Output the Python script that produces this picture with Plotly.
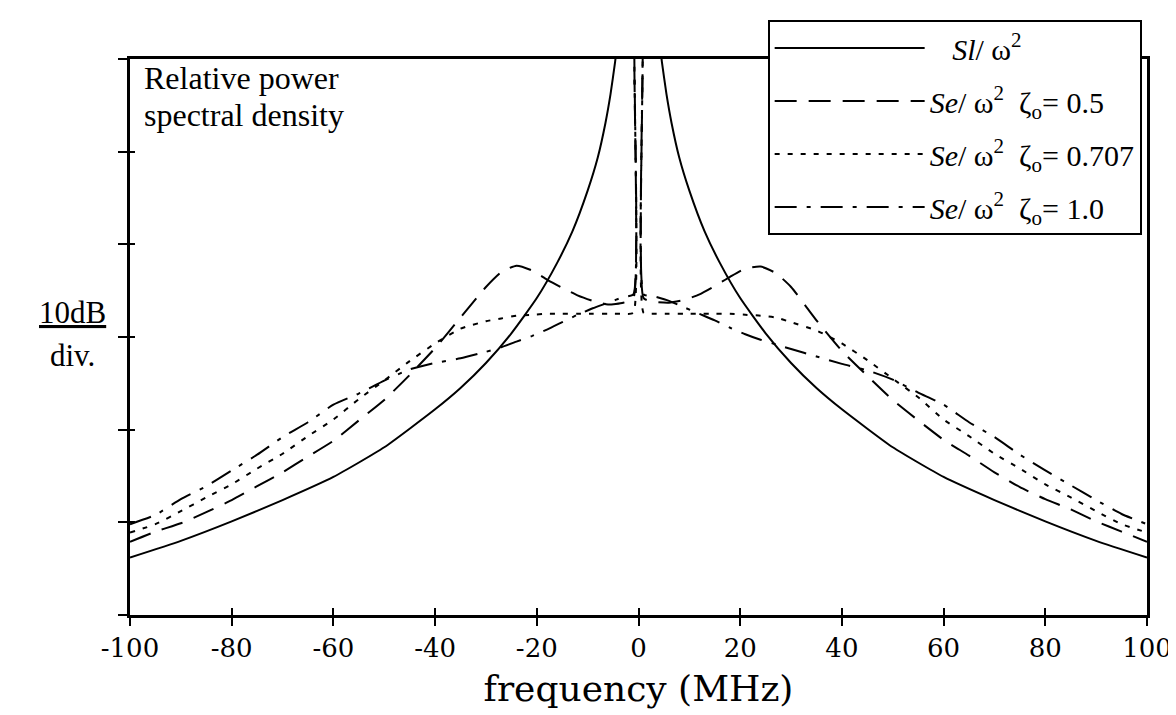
import plotly.graph_objects as go

# ---------------- data ----------------
# frequency axis (MHz)
freq_sl = [-100, -90, -80, -70, -60, -50, -40, -35, -30, -25, -20, -16, -13, -10, -8, -6.5, -5.5, -4.6, -4.2,
           0,
           4.2, 4.6, 5.5, 6.5, 8, 10, 13, 16, 20, 25, 30, 35, 40, 50, 60, 70, 80, 90, 100]
# Sl / w^2  (dB, relative; top of plot = 0 dB)
sl_db = [-53.8, -52.0, -49.9, -47.6, -45.1, -41.9, -37.8, -35.5, -32.8, -29.6, -25.8, -22.0, -18.6, -14.2, -10.6, -6.9, -3.8, -0.3, 1.5,
         None,
         1.5, -0.3, -3.8, -6.9, -10.6, -14.2, -18.6, -22.0, -25.8, -29.6, -32.8, -35.5, -37.8, -41.9, -45.1, -47.6, -49.9, -52.0, -53.8]

freq_se = [-100, -95, -90, -85, -80, -75, -70, -65, -60, -55, -50, -45, -40, -35, -30, -27, -24, -21, -18, -15, -12, -9, -6, -3, -1.0, -0.5,
           0.5, 1.0, 3, 6, 9, 12, 15, 18, 21, 24, 27, 30, 35, 40, 45, 50, 55, 60, 65, 70, 75, 80, 85, 90, 95, 100]

se_z05_db = [-52.1, -51.0, -50.1, -48.9, -47.6, -46.1, -44.6, -42.9, -41.2, -39.0, -36.8, -34.1, -31.2, -27.9, -24.6, -23.0, -22.3, -22.8,
             -23.8, -24.7, -25.5, -26.1, -26.5, -26.3, -25.8, 8,
             8, -25.8, -26.2, -26.3, -26.0, -25.4, -24.5, -23.5, -22.6, -22.4, -23.1, -24.6, -28.2, -31.5, -34.2, -36.8, -39.0,
             -41.1, -42.8, -44.6, -46.2, -47.5, -48.6, -49.9, -51.0, -52.1]

se_z0707_db = [-51.1, -50.2, -48.8, -47.3, -45.9, -44.2, -42.6, -40.7, -38.9, -36.7, -34.7, -32.6, -30.7, -29.1, -28.3, -28.0, -27.7, -27.6,
               -27.5, -27.5, -27.5, -27.5, -27.5, -27.5, -27.4, 8,
               8, -27.4, -27.5, -27.5, -27.5, -27.5, -27.5, -27.5, -27.6, -27.7, -27.9, -28.4, -29.3, -30.7, -32.5, -34.5, -36.5,
               -38.9, -40.7, -42.6, -44.2, -45.9, -47.3, -48.8, -50.2, -51.1]

se_z10_db = [-50.2, -49.2, -47.5, -46.1, -44.4, -42.7, -40.8, -39.2, -37.3, -36.1, -34.7, -33.5, -32.8, -32.3, -31.6, -31.1, -30.5, -29.9,
             -29.2, -28.4, -27.6, -26.9, -26.3, -25.7, -25.4, 8,
             8, -25.4, -25.6, -26.1, -26.8, -27.5, -28.2, -29.0, -29.7, -30.3, -30.8, -31.3, -32.1, -32.9, -33.6, -34.6, -36.0,
             -37.3, -39.2, -40.8, -42.7, -44.4, -46.0, -47.6, -49.1, -50.2]

x_ticks = [-100, -80, -60, -40, -20, 0, 20, 40, 60, 80, 100]
y_ticks = [-60, -50, -40, -30, -20, -10, 0]

legend_names = [
    "\u00a0\u00a0\u00a0<i>Sl</i>/ ω<sup>2</sup>",
    "<i>Se</i>/ ω<sup>2</sup>\u00a0\u00a0ζ<sub>o</sub>= 0.5",
    "<i>Se</i>/ ω<sup>2</sup>\u00a0\u00a0ζ<sub>o</sub>= 0.707",
    "<i>Se</i>/ ω<sup>2</sup>\u00a0\u00a0ζ<sub>o</sub>= 1.0",
]

# ---------------- figure ----------------
SERIF_T = "Liberation Serif, Times New Roman, serif"
SERIF_C = "DejaVu Serif, serif"

fig = go.Figure()
series = [
    (freq_sl, sl_db, "solid"),
    (freq_se, se_z05_db, "22px,12px"),
    (freq_se, se_z0707_db, "5px,8px"),
    (freq_se, se_z10_db, "22px,10px,4px,10px"),
]
for i, (xs, ys, dash) in enumerate(series):
    fig.add_trace(go.Scatter(
        x=xs, y=ys, mode="lines", name=legend_names[i], legendgroup=f"g{i}",
        line=dict(color="black", width=2, dash=dash, shape="spline", smoothing=0.5),
        connectgaps=False, hoverinfo="skip",
    ))

# empty trace to carry the inner-tick overlay axes
fig.add_trace(go.Scatter(x=[], y=[], xaxis="x2", yaxis="y2", showlegend=False, hoverinfo="skip"))

fig.update_layout(
    width=1176, height=715,
    margin=dict(l=122, r=26, t=42, b=108),
    paper_bgcolor="white", plot_bgcolor="white",
    showlegend=True,
    legend=dict(
        x=0.627, y=1.07, xanchor="left", yanchor="top",
        bgcolor="white", bordercolor="black", borderwidth=2,
        font=dict(family=SERIF_T, size=30, color="black"),
        itemwidth=150, tracegroupgap=11,
    ),
    xaxis=dict(
        range=[-100, 100], tickvals=x_ticks, ticktext=[str(v) for v in x_ticks],
        ticks="outside", ticklen=8, tickwidth=2, tickcolor="black",
        showline=True, linewidth=3, linecolor="black", mirror=True,
        showgrid=False, zeroline=False,
        tickfont=dict(family=SERIF_C, size=26, color="black"),
        title=dict(text="frequency (MHz)", font=dict(family=SERIF_C, size=36, color="black"), standoff=14),
    ),
    yaxis=dict(
        range=[-60, 0], tickvals=y_ticks, showticklabels=False,
        ticks="outside", ticklen=9, tickwidth=2, tickcolor="black",
        showline=True, linewidth=3, linecolor="black", mirror=True,
        showgrid=False, zeroline=False,
    ),
    xaxis2=dict(overlaying="x", anchor="y", matches="x", tickvals=x_ticks, showticklabels=False,
                ticks="inside", ticklen=7, tickwidth=2, tickcolor="black",
                showline=False, showgrid=False, zeroline=False),
    yaxis2=dict(overlaying="y", anchor="x", matches="y", tickvals=y_ticks, showticklabels=False,
                ticks="inside", ticklen=5, tickwidth=2, tickcolor="black",
                showline=False, showgrid=False, zeroline=False),
    annotations=[
        dict(text="Relative power", xref="paper", yref="paper", x=0.012, y=0.965,
             xanchor="left", yanchor="middle", showarrow=False,
             font=dict(family=SERIF_T, size=32, color="black")),
        dict(text="spectral density", xref="paper", yref="paper", x=0.012, y=0.899,
             xanchor="left", yanchor="middle", showarrow=False,
             font=dict(family=SERIF_T, size=32, color="black")),
        dict(text="<u>10dB</u>", xref="paper", yref="paper", x=-0.057, y=(607 - 300) / 565,
             xanchor="center", yanchor="middle", showarrow=False,
             font=dict(family=SERIF_T, size=31, color="black")),
        dict(text="div.", xref="paper", yref="paper", x=-0.057, y=(607 - 343) / 565,
             xanchor="center", yanchor="middle", showarrow=False,
             font=dict(family=SERIF_T, size=31, color="black")),
    ],
)

fig.write_html("out.html")
